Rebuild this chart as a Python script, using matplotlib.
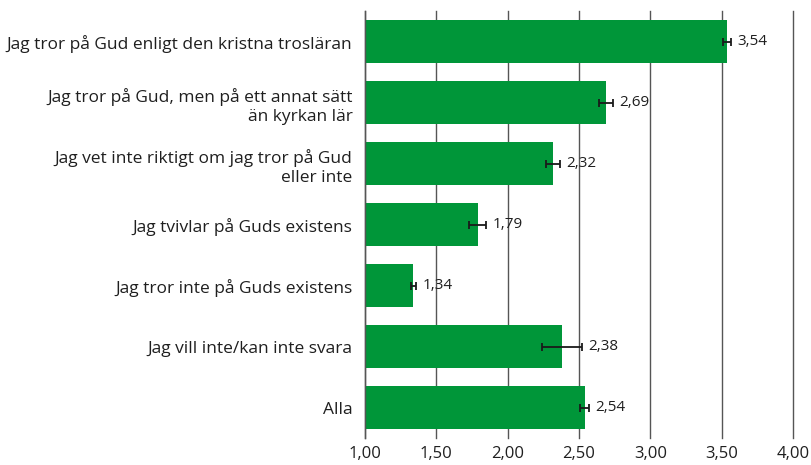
import matplotlib
matplotlib.use("Agg")
import matplotlib.pyplot as plt
import numpy as np
from matplotlib.transforms import offset_copy

categories = [
    "Jag tror på Gud enligt den kristna trosläran",
    "Jag tror på Gud, men på ett annat sätt\nän kyrkan lär",
    "Jag vet inte riktigt om jag tror på Gud\neller inte",
    "Jag tvivlar på Guds existens",
    "Jag tror inte på Guds existens",
    "Jag vill inte/kan inte svara",
    "Alla",
]
values = [3.54, 2.69, 2.32, 1.79, 1.34, 2.38, 2.54]
errors = [0.027, 0.048, 0.05, 0.06, 0.02, 0.14, 0.03]
value_labels = ["3,54", "2,69", "2,32", "1,79", "1,34", "2,38", "2,54"]
xticks = [1.0, 1.5, 2.0, 2.5, 3.0, 3.5, 4.0]
xtick_labels = ["1,00", "1,50", "2,00", "2,50", "3,00", "3,50", "4,00"]

plt.rcParams['font.family'] = ['Open Sans', 'DejaVu Sans']

fig = plt.figure(figsize=(8.12, 4.65), dpi=100)
ax = fig.add_axes([0.4495, 0.058, 0.527, 0.918])

y = np.arange(len(categories))
base = 1.0
ax.barh(y, [v - base for v in values], left=base, height=0.70, color='#009639', zorder=3)
ax.errorbar(values, y, xerr=errors, fmt='none', ecolor='#1a1a1a', elinewidth=1.3,
            capsize=3, capthick=1.3, zorder=4)

for yi, v, e, lab in zip(y, values, errors, value_labels):
    tr = offset_copy(ax.transData, fig=fig, x=6, y=0, units='dots')
    ax.text(v + e, yi, lab, transform=tr, va='center', ha='left', fontsize=11,
            color='#1f1f1f', zorder=5)

ax.set_xlim(1.0, 4.0)
ax.set_ylim(len(categories) - 0.5, -0.5)
ax.set_xticks(xticks)
ax.set_xticklabels(xtick_labels, fontsize=12, color='#1f1f1f')
ax.set_yticks(y)
ax.set_yticklabels(categories, fontsize=12.5, color='#1f1f1f', linespacing=1.25)
ax.tick_params(axis='y', length=0, pad=9)
ax.tick_params(axis='x', length=0, pad=6)

ax.grid(axis='x', color='#555555', linewidth=1.0, zorder=1)
for line in ax.get_xgridlines():
    line.set_clip_on(False)
for s in ['top', 'right', 'bottom']:
    ax.spines[s].set_visible(False)
ax.spines['left'].set_color('#555555')
ax.spines['left'].set_linewidth(1.0)
ax.spines['left'].set_zorder(5)

fig.savefig("out.png", dpi=100)
